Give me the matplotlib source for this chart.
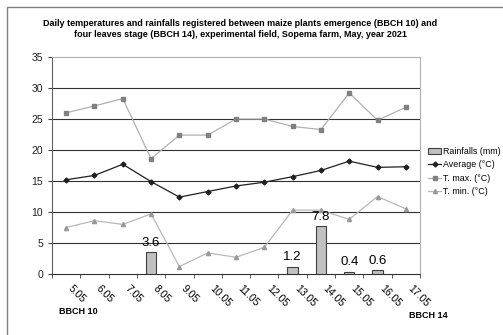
import matplotlib.pyplot as plt
import matplotlib.patches as mpatches
import numpy as np

plt.rcParams['font.family'] = ['Liberation Sans', 'DejaVu Sans']

# data
days = ['5.05', '6.05', '7.05', '8.05', '9.05', '10.05', '11.05',
        '12.05', '13.05', '14.05', '15.05', '16.05', '17.05']
rain = [0, 0, 0, 3.6, 0, 0, 0, 0, 1.2, 7.8, 0.4, 0.6, 0]
t_avg = [15.2, 15.9, 17.7, 14.9, 12.4, 13.3, 14.2, 14.8, 15.7, 16.7, 18.2, 17.2, 17.3]
t_max = [26.0, 27.1, 28.3, 18.6, 22.4, 22.4, 25.0, 25.0, 23.8, 23.3, 29.2, 24.8, 26.9]
t_min = [7.5, 8.6, 8.0, 9.7, 1.2, 3.4, 2.7, 4.3, 10.3, 10.3, 8.8, 12.5, 10.5]

fig = plt.figure(figsize=(5.03, 3.35), dpi=100)
ax = fig.add_axes([52/503, 1-274/335, 368/503, 217/335])

x = np.arange(len(days)) + 0.5

# rainfall bars with labels
for xi, r in zip(x, rain):
    if r > 0:
        ax.bar(xi, r, width=0.37, color='#c0c0c0', edgecolor='#404040', linewidth=0.8, zorder=3)
        ax.text(xi, r + 0.5, f'{r:.1f}', ha='center', va='bottom', fontsize=9.5, zorder=5)

l_avg, = ax.plot(x, t_avg, color='#202020', lw=0.9, marker='D', ms=2.5, zorder=4)
l_max, = ax.plot(x, t_max, color='#b0b0b0', lw=0.9, marker='s', ms=2.6,
                 mfc='#808080', mec='#808080', zorder=4)
l_min, = ax.plot(x, t_min, color='#b8b8b8', lw=0.9, marker='^', ms=3,
                 mfc='#999999', mec='#999999', zorder=4)

ax.set_xlim(0, len(days))
ax.set_ylim(0, 35)
ax.set_yticks(range(0, 36, 5))
for yv in range(5, 31, 5):
    ax.axhline(yv, color='#303030', lw=0.8, zorder=1)

ax.set_xticks(x)
ax.set_xticklabels(days, rotation=-45, ha='left', va='top', fontsize=7.5)
ax.tick_params(axis='x', which='major', length=0, pad=7)
ax.set_xticks(np.arange(0, len(days) + 1), minor=True)
ax.tick_params(axis='x', which='minor', length=3, direction='out', color='#404040')
ax.tick_params(axis='y', labelsize=7.5, length=3, color='#404040', labelcolor='#202020')

ax.spines['left'].set_color('#606060')
ax.spines['bottom'].set_color('#303030')
ax.spines['top'].set_color('#b0b0b0')
ax.spines['right'].set_color('#b0b0b0')
for s in ax.spines.values():
    s.set_linewidth(0.8)

rain_patch = mpatches.Patch(facecolor='#c0c0c0', edgecolor='#404040', linewidth=0.8)
fig.legend([rain_patch, l_avg, l_max, l_min],
           ['Rainfalls (mm)', 'Average (°C)', 'T. max. (°C)', 'T. min. (°C)'],
           loc='upper left', bbox_to_anchor=(428/503, 1-147/335), frameon=False,
           fontsize=6.4, handlelength=1.5, handleheight=0.8, handletextpad=0.15,
           labelspacing=0.5, borderaxespad=0, borderpad=0)

fig.text(0.478, 1-29/335,
         'Daily temperatures and rainfalls registered between maize plants emergence (BBCH 10) and\n'
         'four leaves stage (BBCH 14), experimental field, Sopema farm, May, year 2021',
         ha='center', va='center', fontsize=6.5, fontweight='bold', linespacing=1.15)

fig.text(59/503, 1-312/335, 'BBCH 10', ha='left', va='center', fontsize=6.5, fontweight='bold')
fig.text(409/503, 1-316/335, 'BBCH 14', ha='left', va='center', fontsize=6.5, fontweight='bold')

# outer frame
fig.patches.append(mpatches.Rectangle((7/503, -0.05), 1.1, 1 - 7/335 + 0.05,
                                      transform=fig.transFigure, fill=False,
                                      edgecolor='#808080', linewidth=1))

fig.savefig('out.png', dpi=100)
